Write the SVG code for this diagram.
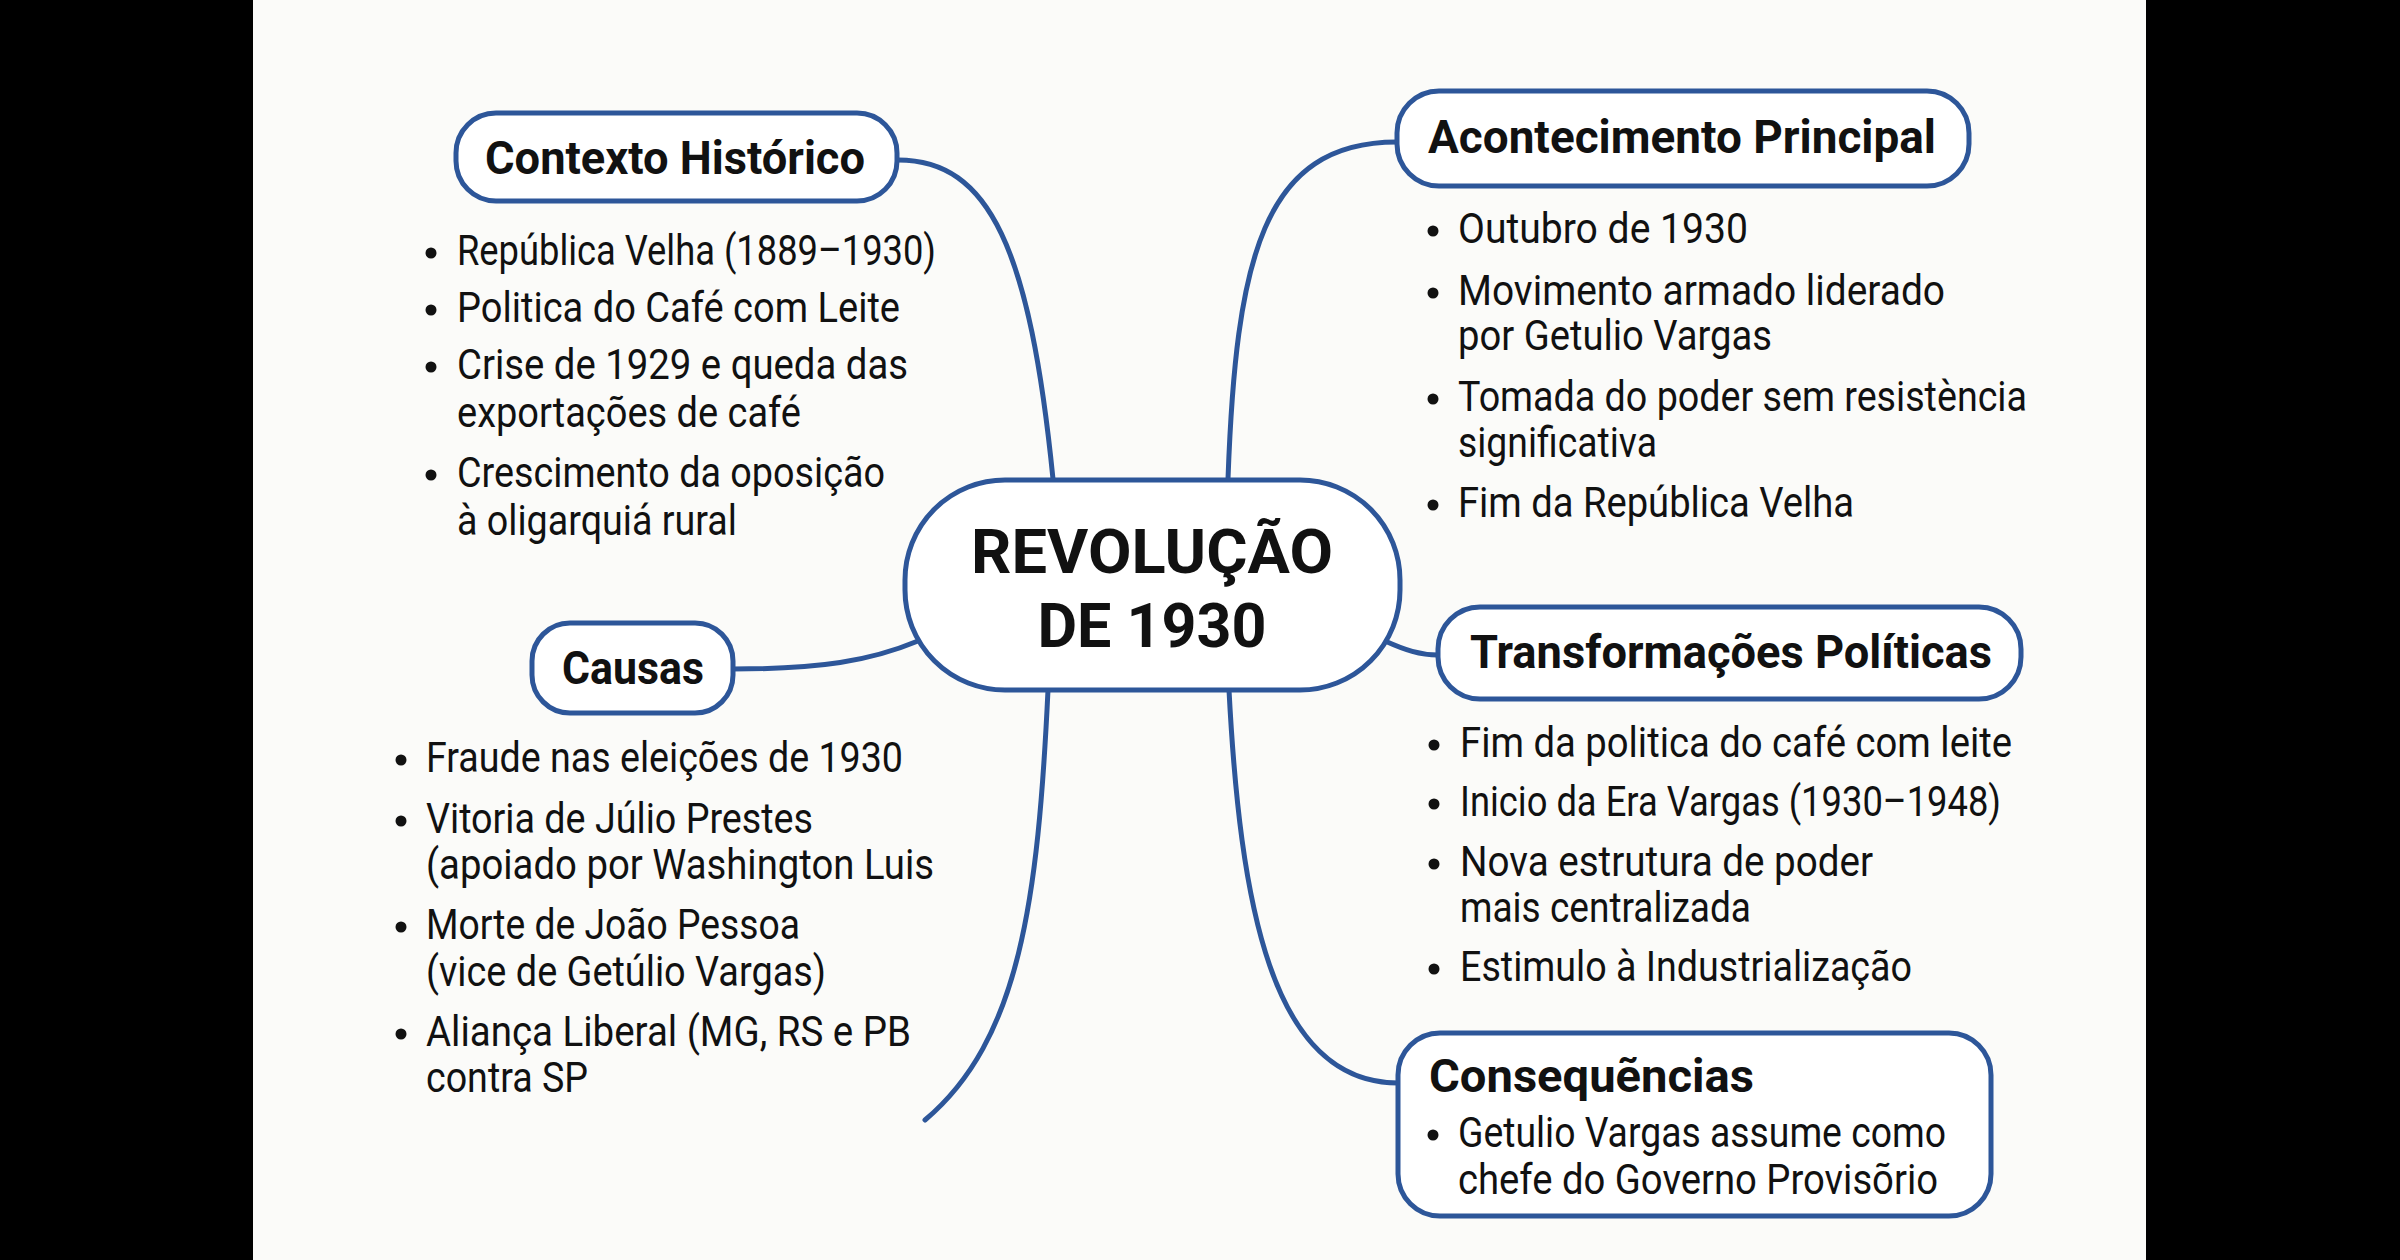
<svg xmlns="http://www.w3.org/2000/svg" width="2400" height="1260" viewBox="0 0 2400 1260">
<defs>
<style>
.bg{fill:#fbfbf9}
.bar{fill:#000}
.box{fill:#ffffff;stroke:#2d5699;stroke-width:5}
.con{fill:none;stroke:#2d5699;stroke-width:5;stroke-linecap:round}
.hd{font-family:Roboto,"Liberation Sans",Arial,sans-serif;font-weight:700;font-size:46px;fill:#111}
.ttl{font-family:Roboto,"Liberation Sans",Arial,sans-serif;font-weight:700;font-size:62px;fill:#111}
.tx{font-family:Roboto,"Liberation Sans",Arial,sans-serif;font-weight:400;font-size:42px;fill:#111}
.dot{fill:#111}
</style>
</defs>
<rect class="bg" x="0" y="0" width="2400" height="1260"/>
<rect class="bar" x="0" y="0" width="253" height="1260"/>
<rect class="bar" x="2146" y="0" width="254" height="1260"/>

<g id="connectors">
<path class="con" d="M898,160 C990,160 1030,250 1053,479"/>
<path class="con" d="M1228,479 C1236,260 1262,142 1397,142"/>
<path class="con" d="M733,669 C820,669 870,661 918,641"/>
<path class="con" d="M1385,641 C1405,650 1420,655 1438,655"/>
<path class="con" d="M1048,690 C1038,900 1020,1040 925,1120"/>
<path class="con" d="M1229,690 C1240,900 1270,1083 1398,1083"/>
</g>

<g id="central">
<rect class="box" x="905" y="480" width="495" height="210" rx="100" ry="100"/>
<text class="ttl" x="1152" y="573" text-anchor="middle" textLength="362" lengthAdjust="spacingAndGlyphs">REVOLUÇÃO</text>
<text class="ttl" x="1152" y="647" text-anchor="middle" textLength="229" lengthAdjust="spacingAndGlyphs">DE 1930</text>
</g>

<g id="contexto">
<rect class="box" x="456" y="113" width="441" height="88" rx="40" ry="40"/>
<text class="hd" x="675" y="174" text-anchor="middle" textLength="380" lengthAdjust="spacingAndGlyphs">Contexto Histórico</text>
<circle class="dot" cx="431" cy="253" r="5.5"/>
<text class="tx" x="457" y="265" textLength="479" lengthAdjust="spacingAndGlyphs">República Velha (1889–1930)</text>
<circle class="dot" cx="431" cy="310" r="5.5"/>
<text class="tx" x="457" y="322" textLength="443" lengthAdjust="spacingAndGlyphs">Politica do Café com Leite</text>
<circle class="dot" cx="431" cy="367" r="5.5"/>
<text class="tx" x="457" y="379" textLength="451" lengthAdjust="spacingAndGlyphs">Crise de 1929 e queda das</text>
<text class="tx" x="457" y="427" textLength="344" lengthAdjust="spacingAndGlyphs">exportações de café</text>
<circle class="dot" cx="431" cy="475" r="5.5"/>
<text class="tx" x="457" y="487" textLength="428" lengthAdjust="spacingAndGlyphs">Crescimento da oposição</text>
<text class="tx" x="457" y="535" textLength="280" lengthAdjust="spacingAndGlyphs">à oligarquiá rural</text>
</g>

<g id="acontecimento">
<rect class="box" x="1397" y="91" width="572" height="95" rx="42" ry="42"/>
<text class="hd" x="1682" y="153" text-anchor="middle" textLength="508" lengthAdjust="spacingAndGlyphs">Acontecimento Principal</text>
<circle class="dot" cx="1433" cy="231" r="5.5"/>
<text class="tx" x="1458" y="243" textLength="290" lengthAdjust="spacingAndGlyphs">Outubro de 1930</text>
<circle class="dot" cx="1433" cy="293" r="5.5"/>
<text class="tx" x="1458" y="305" textLength="487" lengthAdjust="spacingAndGlyphs">Movimento armado liderado</text>
<text class="tx" x="1458" y="350" textLength="314" lengthAdjust="spacingAndGlyphs">por Getulio Vargas</text>
<circle class="dot" cx="1433" cy="399" r="5.5"/>
<text class="tx" x="1458" y="411" textLength="569" lengthAdjust="spacingAndGlyphs">Tomada do poder sem resistència</text>
<text class="tx" x="1458" y="457" textLength="199" lengthAdjust="spacingAndGlyphs">significativa</text>
<circle class="dot" cx="1433" cy="505" r="5.5"/>
<text class="tx" x="1458" y="517" textLength="396" lengthAdjust="spacingAndGlyphs">Fim da República Velha</text>
</g>

<g id="causas">
<rect class="box" x="532" y="623" width="201" height="90" rx="38" ry="38"/>
<text class="hd" x="633" y="684" text-anchor="middle" textLength="142" lengthAdjust="spacingAndGlyphs">Causas</text>
<circle class="dot" cx="401" cy="760" r="5.5"/>
<text class="tx" x="426" y="772" textLength="477" lengthAdjust="spacingAndGlyphs">Fraude nas eleições de 1930</text>
<circle class="dot" cx="401" cy="821" r="5.5"/>
<text class="tx" x="426" y="833" textLength="387" lengthAdjust="spacingAndGlyphs">Vitoria de Júlio Prestes</text>
<text class="tx" x="426" y="879" textLength="508" lengthAdjust="spacingAndGlyphs">(apoiado por Washington Luis</text>
<circle class="dot" cx="401" cy="927" r="5.5"/>
<text class="tx" x="426" y="939" textLength="374" lengthAdjust="spacingAndGlyphs">Morte de João Pessoa</text>
<text class="tx" x="426" y="986" textLength="400" lengthAdjust="spacingAndGlyphs">(vice de Getúlio Vargas)</text>
<circle class="dot" cx="401" cy="1034" r="5.5"/>
<text class="tx" x="426" y="1046" textLength="485" lengthAdjust="spacingAndGlyphs">Aliança Liberal (MG, RS e PB</text>
<text class="tx" x="426" y="1092" textLength="162" lengthAdjust="spacingAndGlyphs">contra SP</text>
</g>

<g id="transformacoes">
<rect class="box" x="1438" y="607" width="583" height="92" rx="42" ry="42"/>
<text class="hd" x="1731" y="668" text-anchor="middle" textLength="522" lengthAdjust="spacingAndGlyphs">Transformações Políticas</text>
<circle class="dot" cx="1434" cy="745" r="5.5"/>
<text class="tx" x="1460" y="757" textLength="552" lengthAdjust="spacingAndGlyphs">Fim da politica do café com leite</text>
<circle class="dot" cx="1434" cy="804" r="5.5"/>
<text class="tx" x="1460" y="816" textLength="541" lengthAdjust="spacingAndGlyphs">Inicio da Era Vargas (1930–1948)</text>
<circle class="dot" cx="1434" cy="864" r="5.5"/>
<text class="tx" x="1460" y="876" textLength="413" lengthAdjust="spacingAndGlyphs">Nova estrutura de poder</text>
<text class="tx" x="1460" y="922" textLength="291" lengthAdjust="spacingAndGlyphs">mais centralizada</text>
<circle class="dot" cx="1434" cy="969" r="5.5"/>
<text class="tx" x="1460" y="981" textLength="452" lengthAdjust="spacingAndGlyphs">Estimulo à Industrialização</text>
</g>

<g id="consequencias">
<rect class="box" x="1398" y="1033" width="593" height="183" rx="42" ry="42"/>
<text class="hd" x="1429" y="1092" textLength="325" lengthAdjust="spacingAndGlyphs">Consequẽncias</text>
<circle class="dot" cx="1433" cy="1135" r="5.5"/>
<text class="tx" x="1458" y="1147" textLength="488" lengthAdjust="spacingAndGlyphs">Getulio Vargas assume como</text>
<text class="tx" x="1458" y="1194" textLength="480" lengthAdjust="spacingAndGlyphs">chefe do Governo Provisõrio</text>
</g>
</svg>
